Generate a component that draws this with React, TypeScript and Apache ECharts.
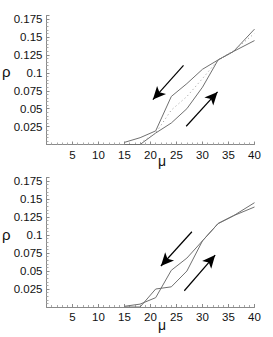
import React, { useEffect, useRef } from "react";
import * as echarts from "echarts";

const mu = [15, 18, 21, 24, 27, 30, 33, 36, 40];
const xTickLabels = ["5", "10", "15", "20", "25", "30", "35", "40"];
const yTickLabels = ["0.025", "0.05", "0.075", "0.1", "0.125", "0.15", "0.175"];

// top panel
const topDown = [0.003, 0.0095, 0.019, 0.067, 0.085, 0.105, 0.118, 0.130, 0.145];
const topUp = [0, 0, 0.016, 0.030, 0.050, 0.080, 0.118, 0.130, 0.161];
const topMid = [null, 0.002, 0.016, 0.048, 0.067, 0.092, 0.118, 0.131, 0.155];
// bottom panel
const botDown = [0.001, 0.004, 0.013, 0.051, 0.068, 0.092, 0.116, 0.127, 0.139];
const botUp = [0, 0, 0.025, 0.028, 0.050, 0.092, 0.116, 0.127, 0.145];

// arrows [x0, y0, x1, y1] in data units (from -> tip)
const topArrowDown = [26.35, 0.1105, 20.46, 0.0627];
const topArrowUp = [26.87, 0.0255, 32.9, 0.0734];
const botArrowDown = [27.96, 0.1046, 22.0, 0.057];
const botArrowUp = [26.5, 0.0226, 32.44, 0.0722];

const FONT = "Liberation Sans, Arial, sans-serif";

function pairs(ys: (number | null)[]) {
  return mu.map((m, i) => [m, ys[i]]);
}

function arrow(a: number[]) {
  return [{ coord: [a[0], a[1]] }, { coord: [a[2], a[3]] }];
}

function xAxis(gridIndex: number) {
  return {
    type: "value",
    gridIndex,
    min: 0,
    max: 40,
    interval: 5,
    axisLine: { lineStyle: { color: "#8a8a8a", width: 1 } },
    axisTick: { inside: true, length: 3, lineStyle: { color: "#8a8a8a" } },
    minorTick: { show: true, splitNumber: 5, length: 2, lineStyle: { color: "#aaa" } },
    splitLine: { show: false },
    axisLabel: {
      margin: 4,
      color: "#111",
      fontSize: 11.5,
      fontFamily: FONT,
      formatter: (v: number) => {
        const s = String(v);
        return xTickLabels.includes(s) ? s : "";
      },
    },
  };
}

function yAxis(gridIndex: number) {
  return {
    type: "value",
    gridIndex,
    min: 0,
    max: 0.18,
    interval: 0.025,
    axisLine: { show: true, lineStyle: { color: "#8a8a8a", width: 1 } },
    axisTick: { show: true, inside: true, length: 3, lineStyle: { color: "#8a8a8a" } },
    minorTick: { show: true, splitNumber: 5, length: 2, lineStyle: { color: "#aaa" } },
    splitLine: { show: false },
    axisLabel: {
      margin: 4,
      color: "#111",
      fontSize: 11.5,
      fontFamily: FONT,
      formatter: (v: number) => {
        const s = String(Math.round(v * 1000) / 1000);
        return yTickLabels.includes(s) ? s : "";
      },
    },
  };
}

function line(name: string, data: (number | null)[], idx: number, extra: any = {}) {
  return {
    name,
    type: "line",
    xAxisIndex: idx,
    yAxisIndex: idx,
    data: pairs(data),
    showSymbol: false,
    symbol: "none",
    lineStyle: { color: "#707070", width: 1, ...(extra.lineStyle || {}) },
    silent: true,
    z: 2,
    ...(extra.markLine ? { markLine: extra.markLine } : {}),
  };
}

function arrows(a: number[], b: number[]) {
  return {
    silent: true,
    symbol: ["none", "arrow"],
    symbolSize: [9, 13],
    label: { show: false },
    lineStyle: { color: "#000", width: 1.2, type: "solid" },
    data: [arrow(a), arrow(b)],
  };
}

export default function App() {
  const ref = useRef<HTMLDivElement>(null);
  useEffect(() => {
    if (!ref.current) return;
    const chart = echarts.init(ref.current, null, { renderer: "svg" });
    chart.setOption({
      animation: false,
      backgroundColor: "#fff",
      grid: [
        { left: 46.5, top: 15.5, width: 208, height: 129 },
        { left: 46.5, top: 177.5, width: 208, height: 129.5 },
      ],
      xAxis: [xAxis(0), xAxis(1)],
      yAxis: [yAxis(0), yAxis(1)],
      graphic: [
        { type: "text", left: 2, top: 64, style: { text: "ρ", fontSize: 15, fontFamily: FONT, fill: "#111" } },
        { type: "text", left: 158, top: 154, style: { text: "μ", fontSize: 14, fontFamily: FONT, fill: "#111" } },
        { type: "text", left: 2, top: 227, style: { text: "ρ", fontSize: 15, fontFamily: FONT, fill: "#111" } },
        { type: "text", left: 158, top: 318, style: { text: "μ", fontSize: 14, fontFamily: FONT, fill: "#111" } },
      ],
      series: [
        line("top-down", topDown, 0, { markLine: arrows(topArrowDown, topArrowUp) }),
        line("top-up", topUp, 0),
        line("top-mid", topMid, 0, { lineStyle: { type: [1, 3], color: "#9a9a9a", width: 1 } }),
        line("bot-down", botDown, 1, { markLine: arrows(botArrowDown, botArrowUp) }),
        line("bot-up", botUp, 1),
      ],
    });
    return () => chart.dispose();
  }, []);
  return (
    <div
      ref={ref}
      style={{ position: "fixed", left: 0, top: 0, width: 273, height: 337, background: "#fff" }}
    />
  );
}
